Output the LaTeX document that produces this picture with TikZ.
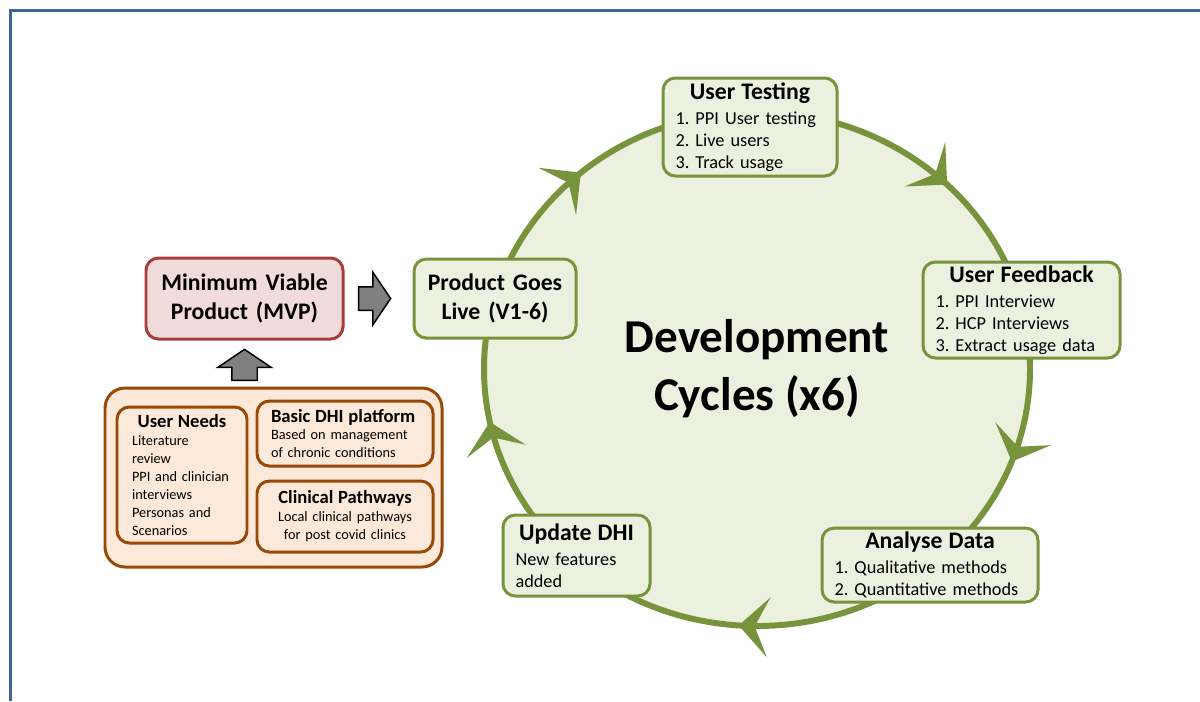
\documentclass[tikz,border=0pt]{standalone}
\usepackage{fontspec}
\setmainfont{Carlito}
\usepackage{tikz}
\usetikzlibrary{arrows.meta,shapes.arrows,decorations.markings,positioning}
\usepackage{xcolor}
\definecolor{cycgreen}{RGB}{119,147,60}
\definecolor{cycfill}{RGB}{235,241,222}
\definecolor{mvpred}{RGB}{165,62,60}
\definecolor{mvpfill}{RGB}{242,220,219}
\definecolor{rust}{RGB}{152,72,7}
\definecolor{peach}{RGB}{253,233,217}
\definecolor{frameblue}{RGB}{65,100,150}
\newcommand{\headfont}{\fontsize{13.5}{16.5}\bfseries\selectfont}
\newcommand{\srcfont}{\fontsize{10.6}{12.5}\bfseries\selectfont}
\frenchspacing

\begin{document}
\begin{tikzpicture}[
  stage/.style={draw=cycgreen, fill=cycfill, line width=1.7pt, rounded corners=7pt,
    inner xsep=0.25cm, inner ysep=0pt, align=left, font=\fontsize{10.4}{12.5}\selectfont},
  source/.style={draw=rust, fill=peach, line width=1.7pt, rounded corners=7pt,
    inner xsep=0.28cm, inner ysep=0pt, align=left, font=\fontsize{8.15}{10.2}\selectfont},
  blockarrow/.style={single arrow, draw=black, fill=black!50, line width=0.85pt,
    inner xsep=0pt, inner ysep=0.22cm, minimum height=0.64cm,
    single arrow head extend=0.29cm, single arrow tip angle=112},
  cyclearrow/.style={cycgreen, line width=3.4pt, postaction={decorate},
    decoration={markings,
      mark=at position 0.125 with {\arrowreversed{Stealth[length=0.6cm,width=1.2cm,inset=0.28cm]}},
      mark=at position 0.364 with {\arrowreversed{Stealth[length=0.6cm,width=1.2cm,inset=0.28cm]}},
      mark=at position 0.532 with {\arrowreversed{Stealth[length=0.6cm,width=1.2cm,inset=0.28cm]}},
      mark=at position 0.739 with {\arrowreversed{Stealth[length=0.6cm,width=1.2cm,inset=0.28cm]}},
      mark=at position 0.943 with {\arrowreversed{Stealth[length=0.6cm,width=1.2cm,inset=0.28cm]}}}}
]
\useasboundingbox (0,0) rectangle (24,-14.02);
\draw[frameblue, line width=1.5pt] (0.21,-14.02) -- (0.21,-0.21) -- (24,-0.21);

\draw[cyclearrow, fill=cycfill] (15.14,-7.38) ellipse [x radius=5.46cm, y radius=5.14cm];
\node[font=\fontsize{26.8}{33}\bfseries\selectfont, align=center] (cycles) at (15.14,-7.38)
  {Development\\Cycles (x6)};

\node[stage, text width=2.98cm, minimum height=1.96cm] (test) at (15.0,-2.54)
  {{\centering\headfont User Testing\par}\vspace{1.7pt}1. PPI User testing\\2. Live users\\3. Track usage};
\node[stage, text width=3.44cm, minimum height=1.92cm] (feedback) at (20.43,-6.2)
  {{\centering\headfont User Feedback\par}\vspace{1.7pt}1. PPI Interview\\2. HCP Interviews\\3. Extract usage data};
\node[stage, text width=3.82cm, minimum height=1.48cm] (analyse) at (18.6,-11.3)
  {{\centering\headfont Analyse Data\par}\vspace{1.7pt}1. Qualitative methods\\2. Quantitative methods};
\node[stage, text width=2.44cm, minimum height=1.62cm] (update) at (11.53,-11.11)
  {{\centering\headfont Update DHI\par}\vspace{1.7pt}New features\\added};
\node[stage, align=center, inner xsep=0.1cm, text width=3.04cm, minimum height=1.58cm, font=\headfont] (live) at (9.9,-5.97)
  {Product Goes\\Live (V1-6)};

\node[stage, draw=mvpred, fill=mvpfill, align=center, inner xsep=0.1cm, text width=3.74cm, minimum height=1.62cm,
  font=\headfont] (mvp) at (4.89,-5.97) {Minimum Viable\\Product (MVP)};

\node[source, minimum width=6.74cm, minimum height=3.58cm, rounded corners=0.4cm] (inputs) at (5.47,-9.55) {};
\node[source, inner xsep=0.3cm, text width=2.0cm, minimum height=2.72cm] (needs) at (3.64,-9.5)
  {{\centering\srcfont User Needs\par}Literature\\review\\PPI and clinician\\interviews\\Personas and\\Scenarios};
\node[source, text width=2.96cm, minimum height=1.3cm] (platform) at (6.9,-8.67)
  {{\srcfont Basic DHI platform\par}Based on management\\of chronic conditions};
\node[source, align=center, text width=2.96cm, minimum height=1.42cm] (pathways) at (6.9,-10.33)
  {{\srcfont Clinical Pathways\par}Local clinical pathways\\for post covid clinics};

\node[blockarrow, anchor=tip] (mvp2live) at ([xshift=-0.42cm]live.west) {};
\node[blockarrow, rotate=90, anchor=tip, minimum height=0.62cm, inner ysep=0.24cm,
  single arrow head extend=0.28cm] (inputs2mvp) at ([yshift=-0.16cm]mvp.south) {};
\end{tikzpicture}
\end{document}
